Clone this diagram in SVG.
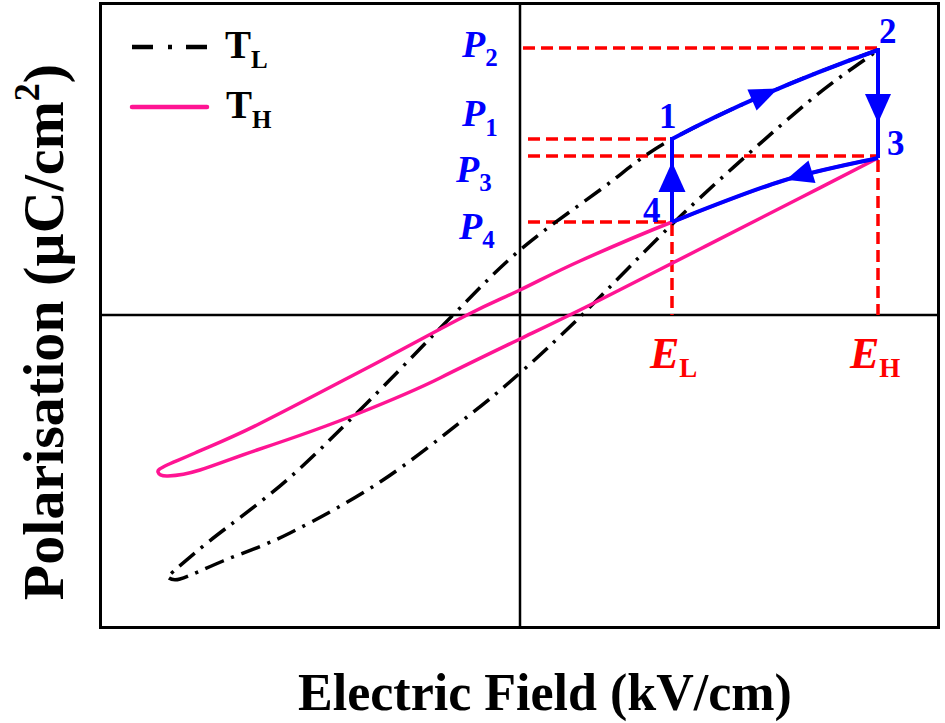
<svg xmlns="http://www.w3.org/2000/svg" width="945" height="723" viewBox="0 0 945 723">
<style>
.frame{fill:none;stroke:#000;stroke-width:3}
.axis{fill:none;stroke:#000;stroke-width:2.5}
.ref{fill:none;stroke:#FF0000;stroke-width:3.5;stroke-dasharray:12 6}
.tl{fill:none;stroke:#000;stroke-width:3.5;stroke-dasharray:20 8 3 8}
.th{fill:none;stroke:#FF1493;stroke-width:3.5;stroke-linejoin:round}
.cyc{fill:none;stroke:#0000FF;stroke-width:4}
.head{fill:#0000FF}
.lab{font-family:"Liberation Serif","Times New Roman",serif;font-weight:bold}
.blue{fill:#0000FF}
.red{fill:#FF0000}
.it{font-style:italic}
</style>
<rect width="945" height="723" fill="#fff"/>
<g id="axes">
<rect class="frame" x="100.5" y="3.5" width="838" height="624"/>
<line class="axis" x1="520" y1="3" x2="520" y2="628"/>
<line class="axis" x1="100" y1="315" x2="939" y2="315"/>
</g>
<g id="reference-lines">
<line class="ref" x1="523" y1="48" x2="877" y2="48"/>
<line class="ref" x1="528" y1="139" x2="672" y2="139"/>
<line class="ref" x1="528" y1="156" x2="877" y2="156"/>
<line class="ref" x1="528" y1="222" x2="672" y2="222"/>
<line class="ref" x1="672" y1="224" x2="672" y2="315"/>
<line class="ref" x1="878" y1="160" x2="878" y2="315"/>
</g>
<g id="curve-TL">
<path class="tl" d="M878,50 Q760,92 672,139 C642.8,154.7 625.3,171.5 600,190 C574.7,208.5 544.5,229.2 520,250 C495.5,270.8 478.5,289.5 453,315 C427.5,340.5 394.7,375.5 367,403 C339.3,430.5 313.7,456.7 287,480 C260.3,503.3 227,526.8 207,543 C187,559.2 173.7,571.3 167,577 C169.2,577.3 170.7,581.7 180,579 C189.3,576.3 204.7,568.7 223,561 C241.3,553.3 263.8,546.2 290,533 C316.2,519.8 350.5,501.3 380,482 C409.5,462.7 443.7,435.2 467,417 C490.3,398.8 500.8,390 520,373 C539.2,356 554.2,342.2 582,315 C609.8,287.8 649.5,245.3 687,210 C724.5,174.7 775.5,129.3 807,103 C838.5,76.7 864.5,60.5 878,50"/>
</g>
<g id="curve-TH">
<path class="th" d="M878,158 C862,161.8 816.3,170.3 782,181 C747.7,191.7 705.7,208.7 672,222 C638.3,235.3 605.3,249.7 580,261 C554.7,272.3 538.8,281 520,290 C501.2,299 492.5,302 467,315 C441.5,328 402,349.7 367,368 C332,386.3 285.7,410.8 257,425 C228.3,439.2 210.3,446.2 195,453 C179.7,459.8 171.2,462.8 165,466 C158.8,469.2 157.5,470.3 158,472 C158.5,473.7 161,476.3 168,476 C175,475.7 185,474.7 200,470 C215,465.3 236,457 257,450 C290,439 325,427 357,414 C387,402 412,392 440,378 C466,365 494,351.5 520,339 C545,327 563,318.5 590,305 C620,290 665,266.8 700,249 C735,231.2 770.3,213.2 800,198 C829.7,182.8 865,164.7 878,158"/>
</g>
<g id="cycle">
<path class="cyc" d="M672,139 Q760,92 878,50"/>
<line class="cyc" x1="878" y1="48" x2="878" y2="158"/>
<path class="cyc" d="M878,158 C862,161.8 816.3,170.3 782,181 C747.7,191.7 705.7,208.7 672,222"/>
<line class="cyc" x1="672" y1="222" x2="672" y2="137"/>
<polygon class="head" points="778,88.6 756.6,110.6 747.4,89.4"/>
<polygon class="head" points="878,123 865,94 891,94"/>
<polygon class="head" points="786,179.7 808.5,160.6 815.5,183"/>
<polygon class="head" points="672,162 658.5,192 685.5,192"/>
</g>
<g id="legend">
<line x1="132" y1="47" x2="207" y2="47" stroke="#000" stroke-width="4.5" stroke-dasharray="21 15 4 14"/>
<line x1="132" y1="107" x2="207" y2="107" stroke="#FF1493" stroke-width="4.5" stroke-linecap="round"/>
<text class="lab" x="225" y="58" font-size="39">T<tspan font-size="25" dy="10">L</tspan></text>
<text class="lab" x="226" y="118" font-size="39">T<tspan font-size="25" dy="10">H</tspan></text>
</g>
<g id="point-labels" class="lab blue">
<text x="462" y="57" font-size="38"><tspan class="it">P</tspan><tspan font-size="25" dy="9">2</tspan></text>
<text x="462" y="126" font-size="38"><tspan class="it">P</tspan><tspan font-size="25" dy="10">1</tspan></text>
<text x="456" y="182" font-size="38"><tspan class="it">P</tspan><tspan font-size="25" dy="9">3</tspan></text>
<text x="459" y="239" font-size="38"><tspan class="it">P</tspan><tspan font-size="25" dy="9">4</tspan></text>
<text x="659" y="128" font-size="35">1</text>
<text x="879" y="43" font-size="35">2</text>
<text x="887" y="155" font-size="35">3</text>
<text x="643" y="222" font-size="35">4</text>
</g>
<g id="field-labels" class="lab red">
<text x="650" y="368" font-size="44"><tspan class="it">E</tspan><tspan font-size="27" dy="9">L</tspan></text>
<text x="850" y="368" font-size="44"><tspan class="it">E</tspan><tspan font-size="27" dy="9">H</tspan></text>
</g>
<g id="axis-titles" class="lab">
<text x="545" y="710" font-size="52" text-anchor="middle">Electric Field (kV/cm)</text>
<text transform="translate(63,332) rotate(-90)" font-size="58" text-anchor="middle">Polarisation (µC/cm<tspan font-size="36" dy="-24">2</tspan><tspan dy="24">)</tspan></text>
</g>
</svg>
